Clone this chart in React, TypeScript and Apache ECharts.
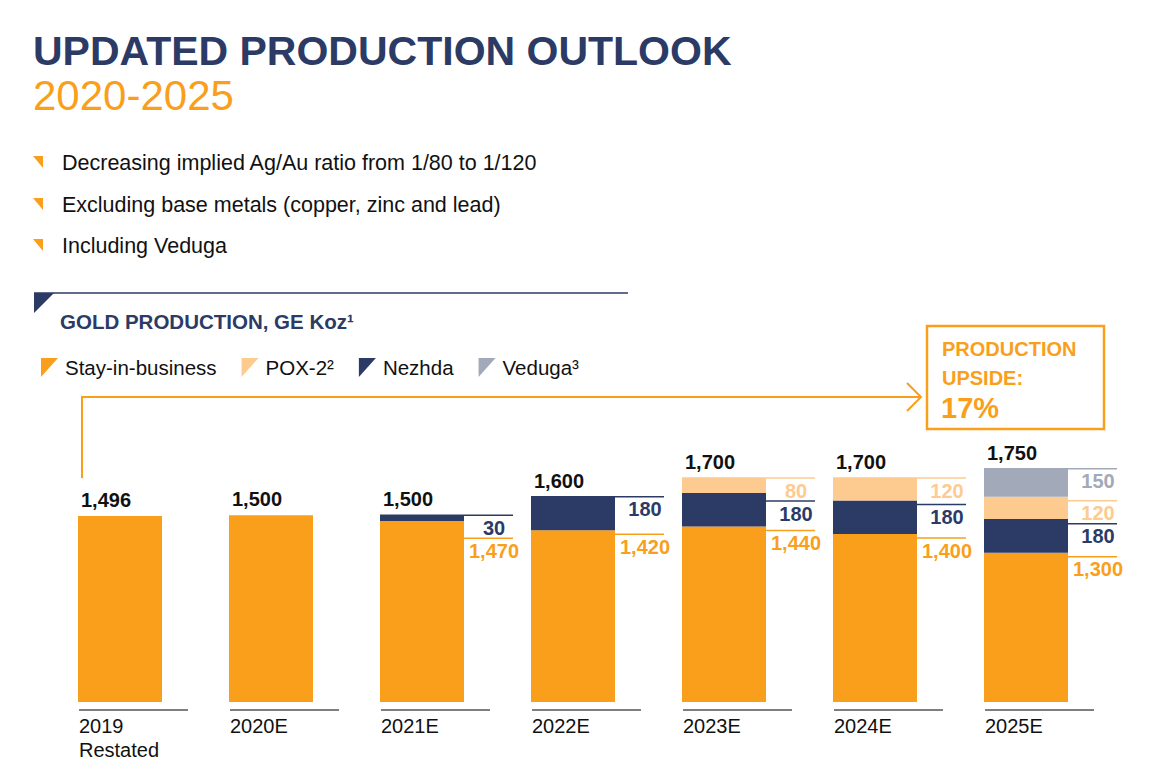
import React, { useEffect, useRef } from "react";
import * as echarts from "echarts";

const categories = ["2019\nRestated", "2020E", "2021E", "2022E", "2023E", "2024E", "2025E"];
const stayInBusiness = [1496, 1500, 1470, 1420, 1440, 1400, 1300];
const nezhda = [0, 0, 30, 180, 180, 180, 180];
const pox2 = [0, 0, 0, 0, 80, 120, 120];
const veduga = [0, 0, 0, 0, 0, 0, 150];
const seriesNames = ["Stay-in-business", "POX-2²", "Nezhda", "Veduga³"];
const bullets = [
  "Decreasing implied Ag/Au ratio from 1/80 to 1/120",
  "Excluding base metals (copper, zinc and lead)",
  "Including Veduga",
];

const ORANGE = "#F99F1C";
const LIGHT = "#FDCB8F";
const NAVY = "#2C3B66";
const GRAY = "#A2A9B9";
const FONT = '"Liberation Sans", Arial, sans-serif';
const Y_MIN = 500;
const Y_MAX = 2000;
const BAR_W = 84;
const COL_W = 49;

const fmt = (v: number) => v.toLocaleString("en-US");

export default function App() {
  const ref = useRef<HTMLDivElement>(null);
  useEffect(() => {
    if (!ref.current) return;
    const chart = echarts.init(ref.current, null, { renderer: "svg" });
    const segColors = [ORANGE, NAVY, LIGHT, GRAY];
    const labelColors = [ORANGE, NAVY, LIGHT, GRAY];

    const renderItem = (params: any, api: any) => {
      const i = api.value(0);
      const vals = [api.value(1), api.value(2), api.value(3), api.value(4)];
      const base = api.coord([i, Y_MIN]);
      const cx = base[0];
      const baseY = base[1];
      const left = cx - BAR_W / 2;
      const right = cx + BAR_W / 2;
      const colEnd = right + COL_W;
      const total = vals.reduce((a: number, b: number) => a + b, 0);
      const topY = api.coord([i, total])[1];
      const children: any[] = [];
      children.push({
        type: "text",
        style: {
          x: left + 3, y: topY - 16, text: fmt(total), fill: "#111",
          font: `bold 20px ${FONT}`, align: "left", verticalAlign: "middle",
        },
      });
      children.push({
        type: "line",
        shape: { x1: left + 1, y1: baseY + 8, x2: left + 110, y2: baseY + 8 },
        style: { stroke: "#555", lineWidth: 1.5 },
      });
      children.push({
        type: "text",
        style: {
          x: left + 1, y: baseY + 12, text: categories[i], fill: "#111",
          font: `20px ${FONT}`, align: "left", verticalAlign: "top", lineHeight: 24,
        },
      });
      // segments, top to bottom
      const segs: any[] = [];
      let cum = total;
      for (let s = 3; s >= 0; s--) {
        if (vals[s] > 0) {
          segs.push({ s, v: vals[s], top: api.coord([i, cum])[1] });
        }
        cum -= vals[s];
      }
      if (segs.length > 1) {
        let prev = -Infinity;
        segs.forEach((sg, k) => {
          let slot: number;
          if (k === 0) {
            slot = sg.top;
            children.push({
              type: "line",
              shape: { x1: left, y1: slot, x2: colEnd, y2: slot },
              style: { stroke: segColors[sg.s], lineWidth: 1.5 },
            });
          } else {
            slot = Math.max(sg.top + 4, prev + 23);
            children.push({
              type: "line",
              shape: { x1: right, y1: slot, x2: colEnd, y2: slot },
              style: { stroke: segColors[sg.s], lineWidth: 1.5 },
            });
          }
          prev = slot;
          children.push({
            type: "text",
            style: {
              x: right + 30, y: slot + 12.5, text: fmt(sg.v), fill: labelColors[sg.s],
              font: `bold 20px ${FONT}`, align: "center", verticalAlign: "middle",
            },
          });
        });
      }
      return { type: "group", children };
    };

    const barSeries = [stayInBusiness, pox2, nezhda, veduga].map((d, k) => ({
      name: seriesNames[k],
      type: "bar",
      stack: "total",
      barWidth: BAR_W,
      data: d,
      itemStyle: { color: [ORANGE, LIGHT, NAVY, GRAY][k] },
      silent: true,
    }));
    // order of stacking: stay, nezhda, pox, veduga
    const ordered = [barSeries[0], barSeries[2], barSeries[1], barSeries[3]];

    const graphic: any[] = [
      {
        type: "text", left: 33, top: 30,
        style: { text: "UPDATED PRODUCTION OUTLOOK", fill: NAVY, font: `bold 41px ${FONT}` },
      },
      {
        type: "text", left: 33, top: 74,
        style: { text: "2020-2025", fill: ORANGE, font: `42px ${FONT}` },
      },
      ...bullets.flatMap((b, k) => {
        const cy = [163, 205, 246][k];
        return [
          {
            type: "polygon",
            shape: { points: [[33, cy - 7], [43, cy - 7], [43, cy + 5]] },
            style: { fill: ORANGE },
          },
          {
            type: "text", x: 62, y: cy,
            style: { text: b, fill: "#111", font: `21.5px ${FONT}`, verticalAlign: "middle" },
          },
        ];
      }),
      {
        type: "line",
        shape: { x1: 34, y1: 293, x2: 628, y2: 293 },
        style: { stroke: NAVY, lineWidth: 1.5 },
      },
      {
        type: "polygon",
        shape: { points: [[34, 293], [54, 293], [34, 313]] },
        style: { fill: NAVY },
      },
      {
        type: "text", x: 60, y: 321,
        style: { text: "GOLD PRODUCTION, GE Koz¹", fill: NAVY, font: `bold 20.5px ${FONT}`, verticalAlign: "middle" },
      },
      {
        type: "polyline",
        shape: { points: [[82, 478], [82, 397], [921, 397]] },
        style: { stroke: ORANGE, lineWidth: 2, fill: "none" },
      },
      {
        type: "polyline",
        shape: { points: [[907, 383], [921, 397], [907, 411]] },
        style: { stroke: ORANGE, lineWidth: 2, fill: "none" },
      },
      {
        type: "rect",
        shape: { x: 927, y: 326, width: 177, height: 103 },
        style: { stroke: ORANGE, lineWidth: 2.5, fill: "none" },
      },
      {
        type: "text", x: 942, y: 349,
        style: { text: "PRODUCTION", fill: ORANGE, font: `bold 20px ${FONT}`, verticalAlign: "middle" },
      },
      {
        type: "text", x: 942, y: 378,
        style: { text: "UPSIDE:", fill: ORANGE, font: `bold 20px ${FONT}`, verticalAlign: "middle" },
      },
      {
        type: "text", x: 941, y: 408,
        style: { text: "17%", fill: ORANGE, font: `bold 29px ${FONT}`, verticalAlign: "middle" },
      },
    ];

    chart.setOption({
      animation: false,
      grid: { left: 44.5, right: 48.5, top: 422, bottom: 65 },
      legend: {
        left: 36, top: 352, itemWidth: 17, itemHeight: 19, itemGap: 25,
        icon: "path://M0,0L17,0L0,19Z",
        selectedMode: false,
        data: seriesNames,
        textStyle: { fontSize: 20.5, fontFamily: FONT, color: "#111", padding: [0, 0, 0, 2] },
      },
      xAxis: { type: "category", data: categories, show: false },
      yAxis: { type: "value", min: Y_MIN, max: Y_MAX, show: false },
      series: [
        ...ordered,
        {
          type: "custom",
          silent: true,
          renderItem,
          encode: { x: 0, y: 1 },
          data: categories.map((_, i) => [i, stayInBusiness[i], nezhda[i], pox2[i], veduga[i]]),
          z: 10,
        },
      ],
      graphic,
    });
    return () => chart.dispose();
  }, []);
  return (
    <div
      ref={ref}
      style={{ position: "absolute", left: 0, top: 0, width: 1150, height: 767, background: "#fff" }}
    />
  );
}
